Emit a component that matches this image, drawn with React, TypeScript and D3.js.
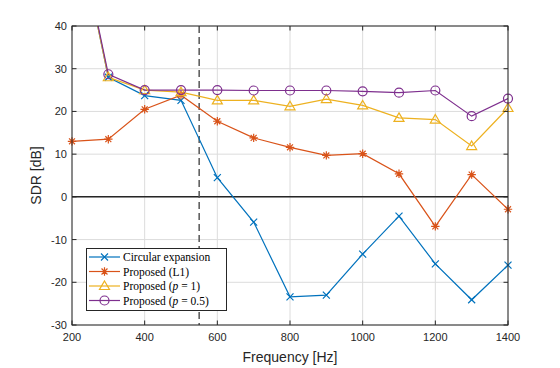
import * as d3 from "d3";
import { useEffect, useRef } from "react";

const freqs = [200, 300, 400, 500, 600, 700, 800, 900, 1000, 1100, 1200, 1300, 1400];
const circular = [69, 28, 23.7, 22.6, 4.5, -5.9, -23.4, -23, -13.4, -4.5, -15.7, -24.1, -16];
const propL1 = [13, 13.5, 20.5, 23.8, 17.7, 13.8, 11.6, 9.7, 10.1, 5.4, -6.9, 5.2, -2.9];
const propP1 = [69, 28, 25, 24.5, 22.6, 22.6, 21.2, 22.9, 21.4, 18.5, 18.1, 11.9, 20.8];
const propP05 = [69, 28.7, 25, 25, 25, 24.9, 24.9, 24.9, 24.7, 24.4, 24.9, 18.9, 23];

const xTicks = [200, 400, 600, 800, 1000, 1200, 1400];
const yTicks = [40, 30, 20, 10, 0, -10, -20, -30];
const cutoff = 550;

const series = [
  { name: "Circular expansion", values: circular, color: "#0072BD", marker: "x" },
  { name: "Proposed (L1)", values: propL1, color: "#D95319", marker: "star" },
  { name: "Proposed (p1)", values: propP1, color: "#EDB120", marker: "tri" },
  { name: "Proposed (p05)", values: propP05, color: "#7E2F8E", marker: "circle" },
];

const W = 560, H = 368;
const m = { left: 72, right: 52, top: 26, bottom: 43 };

export default function App() {
  const svgRef = useRef<SVGSVGElement>(null);

  useEffect(() => {
    const svg = d3.select(svgRef.current);
    svg.selectAll("*").remove();

    const x = d3.scaleLinear().domain([200, 1400]).range([m.left, W - m.right]);
    const y = d3.scaleLinear().domain([-30, 40]).range([H - m.bottom, m.top]);
    const x0 = m.left, x1 = W - m.right, y0 = m.top, y1 = H - m.bottom;

    svg.append("rect").attr("width", W).attr("height", H).attr("fill", "#fff");
    svg.append("defs").append("clipPath").attr("id", "clip")
      .append("rect").attr("x", x0).attr("y", y0).attr("width", x1 - x0).attr("height", y1 - y0);

    // grid
    const grid = svg.append("g").attr("stroke", "#dcdcdc").attr("stroke-width", 1);
    xTicks.forEach(t => grid.append("line").attr("x1", x(t)).attr("x2", x(t)).attr("y1", y0).attr("y2", y1));
    yTicks.forEach(t => grid.append("line").attr("y1", y(t)).attr("y2", y(t)).attr("x1", x0).attr("x2", x1));

    // zero line and cutoff
    svg.append("line").attr("x1", x0).attr("x2", x1).attr("y1", y(0)).attr("y2", y(0))
      .attr("stroke", "#262626").attr("stroke-width", 1.5);
    svg.append("line").attr("x1", x(cutoff)).attr("x2", x(cutoff)).attr("y1", y0).attr("y2", y1)
      .attr("stroke", "#555").attr("stroke-width", 1.5).attr("stroke-dasharray", "7,4");

    const line = d3.line<number>().x((_, i) => x(freqs[i])).y(d => y(d));
    const plot = svg.append("g").attr("clip-path", "url(#clip)");
    const marks = svg.append("g");

    const drawMarker = (g: any, kind: string, cx: number, cy: number, color: string) => {
      if (kind === "x") {
        const s = 3.5;
        g.append("path").attr("d", `M${cx - s},${cy - s}L${cx + s},${cy + s}M${cx - s},${cy + s}L${cx + s},${cy - s}`)
          .attr("stroke", color).attr("stroke-width", 1.2).attr("fill", "none");
      } else if (kind === "star") {
        const s = 4.2;
        const d = [0, 45, 90, 135].map(a => {
          const r = (a * Math.PI) / 180;
          return `M${cx - s * Math.cos(r)},${cy - s * Math.sin(r)}L${cx + s * Math.cos(r)},${cy + s * Math.sin(r)}`;
        }).join("");
        g.append("path").attr("d", d).attr("stroke", color).attr("stroke-width", 1.2).attr("fill", "none");
      } else if (kind === "tri") {
        const s = 5;
        g.append("path").attr("d", `M${cx},${cy - s}L${cx + s},${cy + s * 0.7}L${cx - s},${cy + s * 0.7}Z`)
          .attr("stroke", color).attr("stroke-width", 1.2).attr("fill", "none");
      } else {
        g.append("circle").attr("cx", cx).attr("cy", cy).attr("r", 4.5)
          .attr("stroke", color).attr("stroke-width", 1.2).attr("fill", "none");
      }
    };

    series.forEach(s => {
      plot.append("path").datum(s.values).attr("d", line).attr("fill", "none")
        .attr("stroke", s.color).attr("stroke-width", 1.2);
      const g = marks.append("g");
      s.values.forEach((v, i) => {
        if (v <= 40) drawMarker(g, s.marker, x(freqs[i]), y(v), s.color);
      });
    });

    // box + ticks
    const ax = svg.append("g").attr("stroke", "#262626").attr("stroke-width", 1).attr("fill", "none");
    ax.append("rect").attr("x", x0).attr("y", y0).attr("width", x1 - x0).attr("height", y1 - y0);
    const tl = 4.5;
    xTicks.forEach(t => {
      ax.append("line").attr("x1", x(t)).attr("x2", x(t)).attr("y1", y1).attr("y2", y1 - tl);
      ax.append("line").attr("x1", x(t)).attr("x2", x(t)).attr("y1", y0).attr("y2", y0 + tl);
    });
    yTicks.forEach(t => {
      ax.append("line").attr("x1", x0).attr("x2", x0 + tl).attr("y1", y(t)).attr("y2", y(t));
      ax.append("line").attr("x1", x1).attr("x2", x1 - tl).attr("y1", y(t)).attr("y2", y(t));
    });

    const font = "'Liberation Sans', Arial, sans-serif";
    const labels = svg.append("g").attr("font-family", font).attr("font-size", 11).attr("fill", "#262626");
    xTicks.forEach(t => labels.append("text").attr("x", x(t)).attr("y", y1 + 16)
      .attr("text-anchor", "middle").text(t));
    yTicks.forEach(t => labels.append("text").attr("x", x0 - 5).attr("y", y(t) + 4)
      .attr("text-anchor", "end").text(t));
    labels.append("text").attr("x", (x0 + x1) / 2).attr("y", y1 + 37).attr("text-anchor", "middle")
      .attr("font-size", 14).text("Frequency [Hz]");
    labels.append("text").attr("transform", `translate(41,${(y0 + y1) / 2}) rotate(-90)`)
      .attr("text-anchor", "middle").attr("font-size", 14).text("SDR [dB]");

    // legend
    const lg = svg.append("g");
    lg.append("rect").attr("x", 86.5).attr("y", 248.5).attr("width", 140).attr("height", 62)
      .attr("fill", "#fff").attr("stroke", "#262626").attr("stroke-width", 1);
    const labelParts: [string, string?, string?][] = [
      ["Circular expansion"],
      ["Proposed (L1)"],
      ["Proposed (", "p", " = 1)"],
      ["Proposed (", "p", " = 0.5)"],
    ];
    series.forEach((s, i) => {
      const ly = 257 + i * 14.5;
      lg.append("line").attr("x1", 89).attr("x2", 120).attr("y1", ly).attr("y2", ly)
        .attr("stroke", s.color).attr("stroke-width", 1.2);
      drawMarker(lg, s.marker, 104.5, ly, s.color);
      const t = lg.append("text").attr("x", 123).attr("y", ly + 4)
        .attr("font-family", "'Liberation Serif', 'Times New Roman', serif").attr("font-size", 11.5).attr("fill", "#000");
      const p = labelParts[i];
      t.append("tspan").text(p[0]);
      if (p[1]) {
        t.append("tspan").attr("font-style", "italic").text(p[1]);
        t.append("tspan").text(p[2]!);
      }
    });
  }, []);

  return (
    <svg ref={svgRef} width={W} height={H}
      style={{ position: "absolute", left: 0, top: 0, display: "block" }} />
  );
}
